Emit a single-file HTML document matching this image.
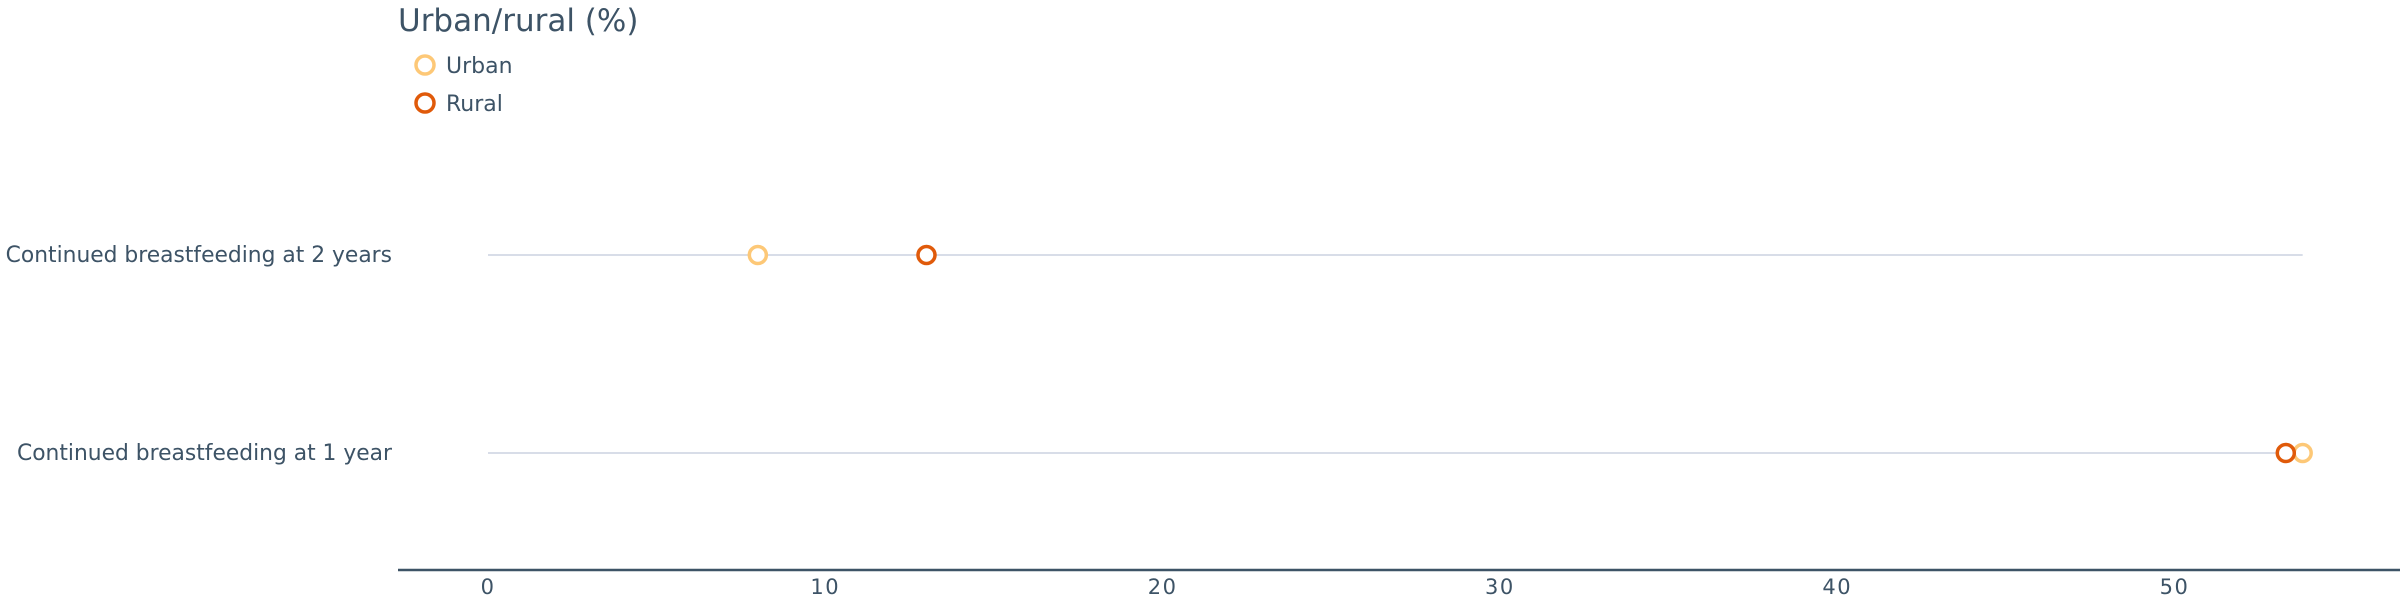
<!DOCTYPE html>
<html><head><meta charset="utf-8"><style>
html,body{margin:0;padding:0;background:#fff;width:2400px;height:600px;overflow:hidden}
svg{display:block;font-family:"DejaVu Sans","Liberation Sans",sans-serif}
</style></head><body>
<svg id="chart" width="2400" height="600">
<text x="398" y="31" font-size="31" fill="#3d5366">Urban/rural (%)</text>
<g>
<g><circle cx="425" cy="65" r="9" fill="#fff" stroke="#fdc877" stroke-width="3.5"/><text x="446" y="73" font-size="22" fill="#3d5366">Urban</text></g>
<g><circle cx="425" cy="103" r="9" fill="#fff" stroke="#e05a0a" stroke-width="3.5"/><text x="446" y="111" font-size="22" fill="#3d5366">Rural</text></g>
</g>
<g id="plot"></g>
</svg>
<script>
const categories = ["Continued breastfeeding at 2 years", "Continued breastfeeding at 1 year"];
const urbanValues = [8.0, 53.8];
const ruralValues = [13.0, 53.3];
const tickValues = [0, 10, 20, 30, 40, 50];
const tickLabels = ["0", "10", "20", "30", "40", "50"];

const NS = "http://www.w3.org/2000/svg";
const x0 = 488, pxPerUnit = 33.73;
const xScale = v => x0 + v * pxPerUnit;
const rowY = [255, 453];
const yScale = i => rowY[i];
const plot = document.getElementById('plot');
function mk(tag, attrs){const e=document.createElementNS(NS,tag);for(const k in attrs)e.setAttribute(k,attrs[k]);return e;}

const axis = mk('line',{x1:398,x2:2400,y1:570,y2:570,stroke:'#3d5366','stroke-width':2.5});


plot.appendChild(axis);
tickValues.forEach((v,i)=>{
  const t = mk('text',{x:xScale(v),y:594,'font-size':21,'text-anchor':'middle',fill:'#3d5366','letter-spacing':'1.5'});
  t.textContent = tickLabels[i];
  
  
  plot.appendChild(t);
});
const globalMax = Math.max(...urbanValues, ...ruralValues);
categories.forEach((c,i)=>{
  const y = yScale(i);
  const g = mk('line',{x1:xScale(0),x2:xScale(globalMax),y1:y,y2:y,stroke:'#d8dde8','stroke-width':2});
  
  
  plot.appendChild(g);
  const l = mk('text',{x:392,y:y+7,'font-size':21.8,'text-anchor':'end',fill:'#3d5366'});
  l.textContent = c;
  
  
  plot.appendChild(l);
  const u = mk('circle',{cx:xScale(urbanValues[i]),cy:y,r:8.5,fill:'#fff',stroke:'#fdc877','stroke-width':3.5});
  
  
  plot.appendChild(u);
  const r = mk('circle',{cx:xScale(ruralValues[i]),cy:y,r:8.5,fill:'#fff',stroke:'#e05a0a','stroke-width':3.5});
  
  
  plot.appendChild(r);
});
</script>
</body></html>
